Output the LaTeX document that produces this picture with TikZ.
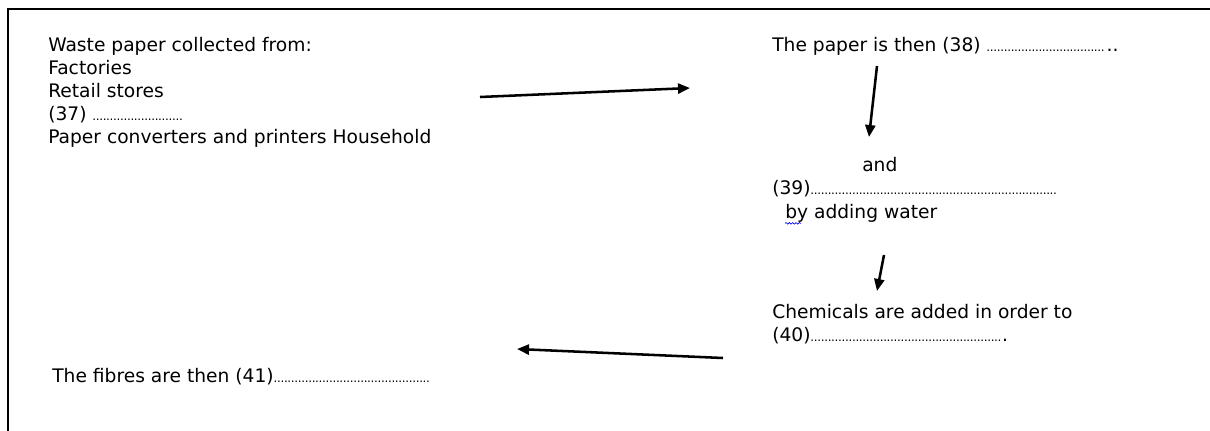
\documentclass[tikz,border=0pt]{standalone}
\usepackage{fontspec}
\setmainfont{DejaVu Sans}
\usetikzlibrary{
  arrows.meta,
  decorations.pathmorphing
}
\newcommand{\dotrun}[1]{\hbox to #1{\leaders\hbox to 2.6pt{\hss\fontsize{9}{9}\selectfont.\hss}\hfill}}

\begin{document}
\begin{tikzpicture}[
  x=0.75pt,y=-0.75pt,
  txt/.style={anchor=base west,inner sep=0pt,font=\fontsize{14}{17}\selectfont},
  flow/.style={line width=1.9pt,-{Triangle[length=9pt,width=7.5pt]}},
  spell/.style={blue,line width=0.5pt,decorate,
    decoration={snake,amplitude=0.6pt,segment length=2.5pt}},
]
\useasboundingbox (0,0) rectangle (1210,430);
\draw[line width=1.5pt] (1212,9) -- (8,9) -- (8,432);
% left column
\node[txt] (src) at (48,51) {Waste paper collected from:};
\node[txt] (fac) at (48,74) {Factories};
\node[txt] (ret) at (48,97) {Retail stores};
\node[txt] (q37) at (48,120) {(37) \dotrun{70pt}};
\node[txt] (prn) at (48,143) {Paper converters and printers Household};
\node[txt] (q41) at (52,382) {The fibres are then (41)\dotrun{119pt}};
% right column
\node[txt] (q38) at (772,51) {The paper is then (38) \dotrun{90pt}..};
\node[txt] (and) at (862,171) {and};
\node[txt] (q39) at (772,194) {(39)\dotrun{186pt}};
\node[txt] (wat) at (785,218) {by adding water};
\node[txt] (chm) at (772,318) {Chemicals are added in order to};
\node[txt] (q40) at (772,341) {(40)\dotrun{145.6pt}\kern-2pt.};
\draw[spell] ([yshift=-4pt]wat.base west) -- ++(16,0);
% arrows
\coordinate (a1s) at (480,97);  \coordinate (a1e) at (690,88);
\coordinate (a2s) at (877,66);  \coordinate (a2e) at (869,137);
\coordinate (a3s) at (884,255); \coordinate (a3e) at (877,291);
\coordinate (a4s) at (723,358); \coordinate (a4e) at (517,349);
\draw[flow] (a1s) -- (a1e);
\draw[flow] (a2s) -- (a2e);
\draw[flow] (a3s) -- (a3e);
\draw[flow] (a4s) -- (a4e);
\end{tikzpicture}
\end{document}
